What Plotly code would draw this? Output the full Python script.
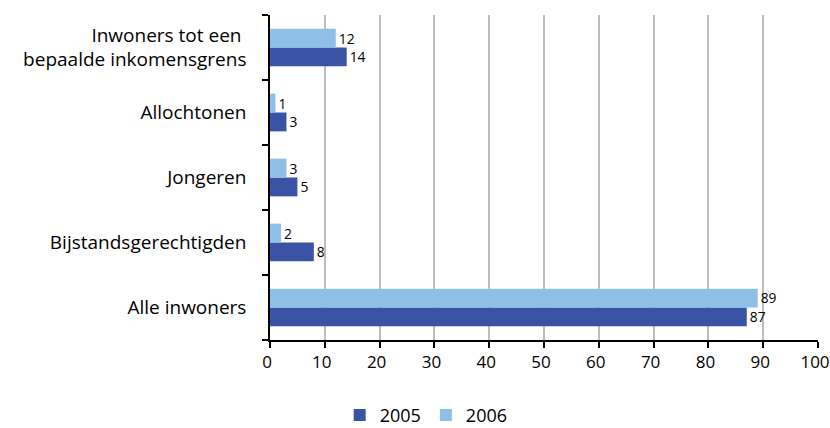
import plotly.graph_objects as go

categories = ["Inwoners tot een <br>bepaalde inkomensgrens", "Allochtonen", "Jongeren",
              "Bijstandsgerechtigden", "Alle inwoners"]
values_2005 = [14, 3, 5, 8, 87]
values_2006 = [12, 1, 3, 2, 89]
series_names = ["2005", "2006"]
x_ticks = [0, 10, 20, 30, 40, 50, 60, 70, 80, 90, 100]

# plot top-to-bottom order
cats = categories[::-1]
v05 = values_2005[::-1]
v06 = values_2006[::-1]

font = "Open Sans, Lato, sans-serif"
dark = "#3B53A4"
light = "#8EC0E7"

fig = go.Figure()
fig.add_trace(go.Bar(
    y=cats, x=v05, orientation="h", name=series_names[0],
    marker=dict(color=dark, line=dict(width=0)),
    text=[str(v) for v in v05], textposition="outside",
    textfont=dict(size=19, color="#000"), cliponaxis=False,
))
fig.add_trace(go.Bar(
    y=cats, x=v06, orientation="h", name=series_names[1],
    marker=dict(color=light, line=dict(width=0)),
    text=[str(v) for v in v06], textposition="outside",
    textfont=dict(size=[19 if v > 50 else 14 for v in v06], color="#000"), cliponaxis=False,
))

fig.update_layout(
    width=830, height=428,
    margin=dict(l=270, r=12, t=15, b=88, autoexpand=False),
    paper_bgcolor="white", plot_bgcolor="white",
    barmode="group", bargap=0.42, bargroupgap=0,
    font=dict(family=font, size=18, color="#000"),
    showlegend=True,
    legend=dict(orientation="h", x=0.285, xanchor="center", y=-0.232, yanchor="middle",
                font=dict(size=18), traceorder="normal"),
)
fig.update_xaxes(
    range=[0, 100], tickvals=x_ticks, ticktext=[str(t) for t in x_ticks],
    showgrid=True, gridcolor="#BEBEBE", gridwidth=2,
    showline=True, linecolor="#000", linewidth=1.5,
    ticks="outside", ticklen=6, tickcolor="#000", tickwidth=1.5,
    zeroline=False, tickfont=dict(size=17), automargin=False, ticklabelshift=-3,
)
fig.update_yaxes(
    showline=True, linecolor="#000", linewidth=1.5,
    ticks="outside", ticklen=6, tickcolor="#000", tickwidth=1.5,
    tickson="boundaries", showgrid=False, ticklabelstandoff=18,
    tickfont=dict(size=19), automargin=False,
)

fig.write_html(
    "out.html",
    config={"displayModeBar": False},
    post_script="document.body.style.margin='0';document.body.style.overflow='hidden';",
)
